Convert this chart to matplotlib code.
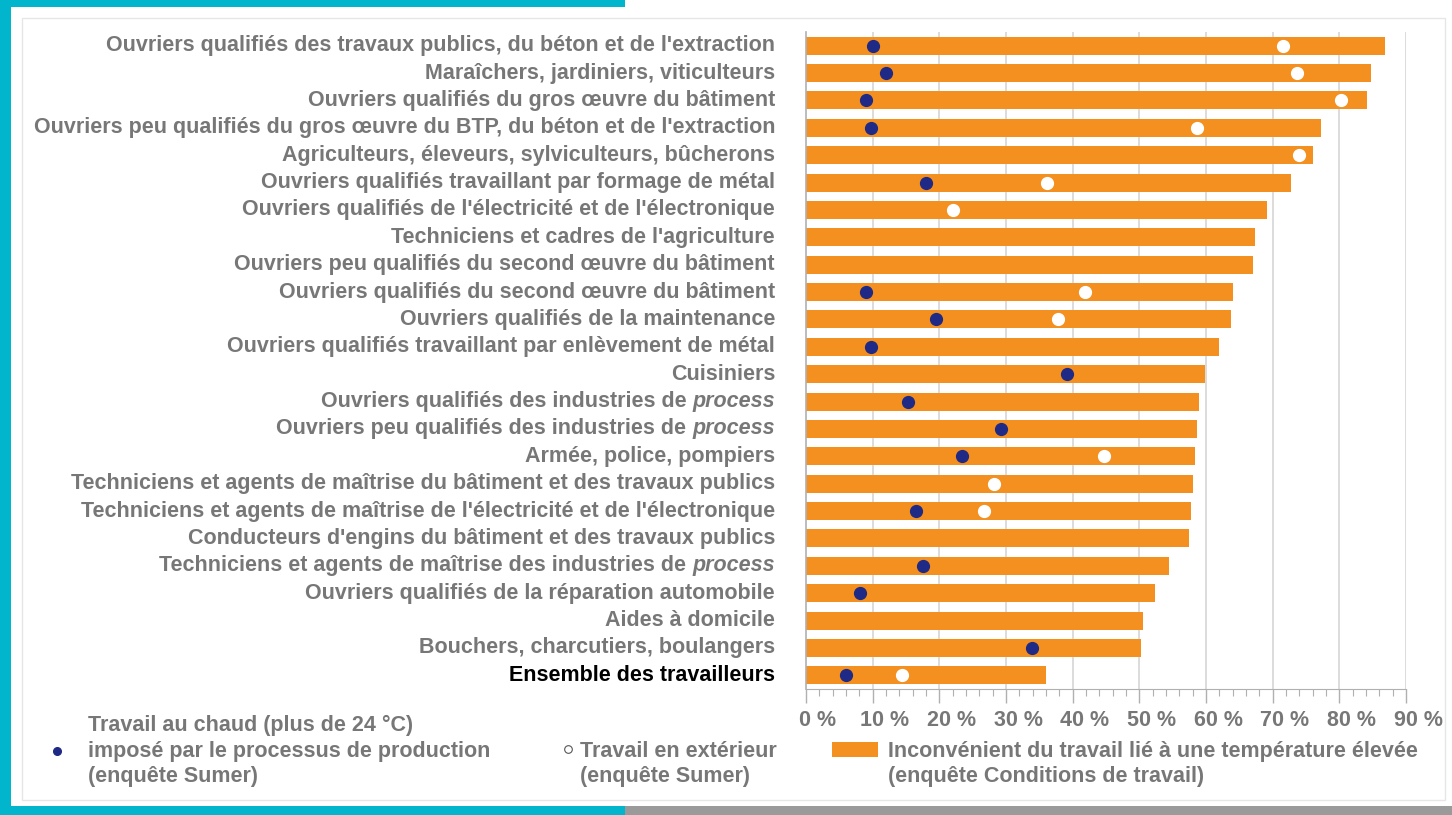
import matplotlib
matplotlib.use("Agg")
import matplotlib.pyplot as plt
import matplotlib.transforms as mtransforms
from matplotlib.patches import Rectangle
from matplotlib.lines import Line2D

plt.rcParams['font.family'] = ['Liberation Sans', 'DejaVu Sans']

# Données (en %)
categories = [
    "Ouvriers qualifiés des travaux publics, du béton et de l'extraction",
    "Maraîchers, jardiniers, viticulteurs",
    "Ouvriers qualifiés du gros œuvre du bâtiment",
    "Ouvriers peu qualifiés du gros œuvre du BTP, du béton et de l'extraction",
    "Agriculteurs, éleveurs, sylviculteurs, bûcherons",
    "Ouvriers qualifiés travaillant par formage de métal",
    "Ouvriers qualifiés de l'électricité et de l'électronique",
    "Techniciens et cadres de l'agriculture",
    "Ouvriers peu qualifiés du second œuvre du bâtiment",
    "Ouvriers qualifiés du second œuvre du bâtiment",
    "Ouvriers qualifiés de la maintenance",
    "Ouvriers qualifiés travaillant par enlèvement de métal",
    "Cuisiniers",
    "Ouvriers qualifiés des industries de |process",
    "Ouvriers peu qualifiés des industries de |process",
    "Armée, police, pompiers",
    "Techniciens et agents de maîtrise du bâtiment et des travaux publics",
    "Techniciens et agents de maîtrise de l'électricité et de l'électronique",
    "Conducteurs d'engins du bâtiment et des travaux publics",
    "Techniciens et agents de maîtrise des industries de |process",
    "Ouvriers qualifiés de la réparation automobile",
    "Aides à domicile",
    "Bouchers, charcutiers, boulangers",
    "Ensemble des travailleurs",
]
inconvenient = [86.8, 84.7, 84.1, 77.3, 76.1, 72.7, 69.2, 67.3, 67.0, 64.0, 63.7, 61.9,
                59.9, 58.9, 58.7, 58.4, 58.1, 57.7, 57.5, 54.5, 52.3, 50.5, 50.3, 36.0]
chaud_process = [10.1, 12.0, 9.0, 9.8, None, 18.0, None, None, None, 9.0, 19.5, 9.8,
                 39.2, 15.3, 29.3, 23.4, None, 16.5, None, 17.6, 8.1, None, 33.9, 6.0]
exterieur = [71.5, 73.7, 80.3, 58.7, 73.9, 36.2, 22.1, None, None, 41.9, 37.8, None,
             None, None, None, 44.7, 28.2, 26.7, None, None, None, None, None, 14.4]
xticks = [0, 10, 20, 30, 40, 50, 60, 70, 80, 90]

ORANGE = '#f39020'
NAVY = '#1f2a86'
GRAY = '#777777'
CYAN = '#00b5cc'
FS = 15.5

W, H = 1452, 815
fig = plt.figure(figsize=(W / 100, H / 100), dpi=100)

# Cadre décoratif
def px_rect(x0, y0, x1, y1, **kw):
    fig.patches.append(Rectangle((x0 / W, 1 - y1 / H), (x1 - x0) / W, (y1 - y0) / H,
                                 transform=fig.transFigure, figure=fig, **kw))

px_rect(0, 0, 625, 7, color=CYAN, lw=0)
px_rect(0, 0, 11, 815, color=CYAN, lw=0)
px_rect(0, 806, 625, 815, color=CYAN, lw=0)
px_rect(625, 806, 1452, 815, color='#9a9a9a', lw=0)
px_rect(22, 18, 1445, 800, facecolor='none', edgecolor='#e6e6e6', lw=1)

ax = fig.add_axes([806 / W, (H - 689) / H, 600 / W, (689 - 32) / H])

y = list(range(len(categories)))
ax.barh(y, inconvenient, height=0.66, color=ORANGE, zorder=2)

for i in y:
    if chaud_process[i] is not None:
        ax.plot(chaud_process[i], i, 'o', ms=8.5, color=NAVY, zorder=3)
    if exterieur[i] is not None:
        ax.plot(exterieur[i], i, 'o', ms=8.5, color='white', zorder=3)

ax.set_xlim(0, 90)
ax.set_ylim(len(categories) - 0.5, -0.5)
ax.set_yticks([])
ax.set_xticks(xticks)
ax.set_xticklabels([f'{t} %' for t in xticks], fontsize=FS, fontweight='bold', color=GRAY)
ax.set_xticks(range(0, 91, 2), minor=True)
ax.tick_params(axis='x', which='major', length=10, width=1, color='#b0b0b0', pad=5)
ax.tick_params(axis='x', which='minor', length=5, width=0.8, color='#b0b0b0')
# décalage des étiquettes vers la droite comme dans l'original
shift = mtransforms.ScaledTranslation(12 / 100, 0, fig.dpi_scale_trans)
for lab in ax.get_xticklabels():
    lab.set_transform(lab.get_transform() + shift)
for t in xticks[1:]:
    ax.axvline(t, color='#d6d6d6', lw=1.2, zorder=1)
for s in ['top', 'right']:
    ax.spines[s].set_visible(False)
ax.spines['left'].set_color('#b0b0b0')
ax.spines['bottom'].set_color('#b0b0b0')
ax.spines['left'].set_linewidth(1.2)

# Libellés de catégories (avec « process » en italique)
fig.canvas.draw()
renderer = fig.canvas.get_renderer()
base = mtransforms.blended_transform_factory(ax.transAxes, ax.transData)
lab_tr = mtransforms.offset_copy(base, fig=fig, x=-31, y=0, units='dots')
for i, cat in enumerate(categories):
    color = 'black' if i == len(categories) - 1 else GRAY
    if '|' in cat:
        main, ital = cat.split('|')
        t = ax.text(0, i, ital, transform=lab_tr, ha='right', va='center', fontsize=FS,
                    fontweight='bold', fontstyle='italic', color=color)
        wpx = t.get_window_extent(renderer).width
        tr2 = mtransforms.offset_copy(base, fig=fig, x=-31 - wpx, y=0, units='dots')
        ax.text(0, i, main, transform=tr2, ha='right', va='center', fontsize=FS,
                fontweight='bold', color=color)
    else:
        ax.text(0, i, cat, transform=lab_tr, ha='right', va='center', fontsize=FS,
                fontweight='bold', color=color)

# Légende
def fx(px):
    return px / W

def fy(py):
    return 1 - py / H

fig.add_artist(Line2D([fx(57)], [fy(751)], marker='o', ms=5.5, color=NAVY, lw=0))
fig.text(fx(88), fy(751), "Travail au chaud (plus de 24 °C)\nimposé par le processus de production\n(enquête Sumer)",
         ha='left', va='center', fontsize=FS, fontweight='bold', color=GRAY, linespacing=1.27)
fig.add_artist(Line2D([fx(568)], [fy(749)], marker='o', ms=5.5, markerfacecolor='white',
                      markeredgecolor='#555555', markeredgewidth=0.8, lw=0))
fig.text(fx(580), fy(764), "Travail en extérieur\n(enquête Sumer)",
         ha='left', va='center', fontsize=FS, fontweight='bold', color=GRAY, linespacing=1.27)
px_rect(832, 742, 878, 757, color=ORANGE, lw=0)
fig.text(fx(888), fy(764), "Inconvénient du travail lié à une température élevée\n(enquête Conditions de travail)",
         ha='left', va='center', fontsize=FS, fontweight='bold', color=GRAY, linespacing=1.27)

fig.savefig('out.png', dpi=100, facecolor='white')
